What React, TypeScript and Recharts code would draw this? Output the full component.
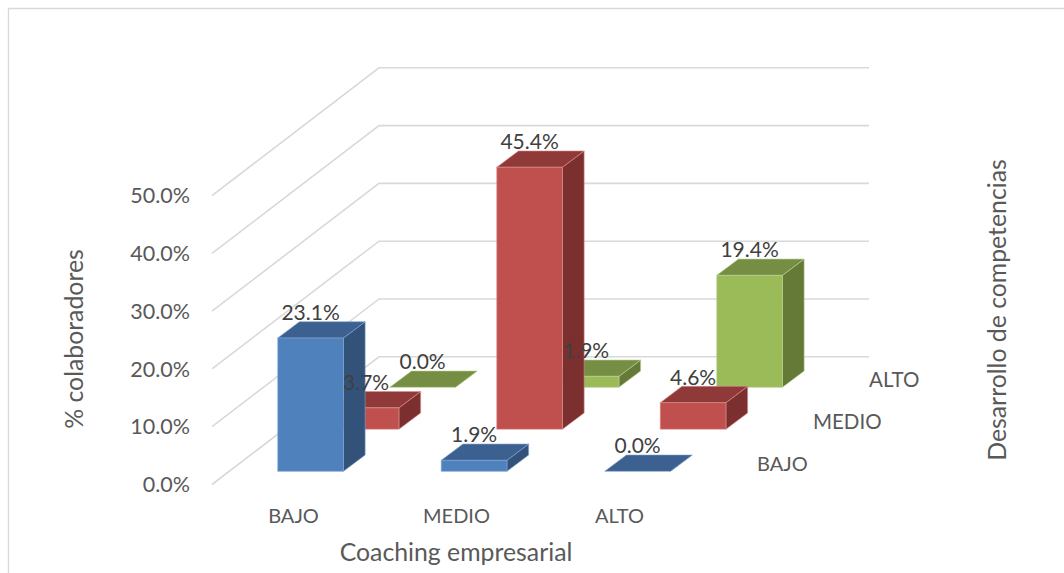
import {
  Bar,
  ComposedChart,
  LabelList,
  Line,
  XAxis,
  YAxis,
} from "recharts";

// Coaching empresarial categories along the front edge
const coachingLevels = ["BAJO", "MEDIO", "ALTO"];

// Percent of staff per competency level, front row to back row
const competenciaBajo = [23.1, 1.9, 0.0];
const competenciaMedio = [3.7, 45.4, 4.6];
const competenciaAlto = [0.0, 1.9, 19.4];

const valueTicks = [0, 10, 20, 30, 40, 50];

const chartData = coachingLevels.map((name, i) => ({
  name,
  bajo: competenciaBajo[i],
  medio: competenciaMedio[i],
  alto: competenciaAlto[i],
}));

// Height the floor climbs between the front and back wall, in value units
const WALL_RISE = 22.1;
const WALL_TOP = 50 + WALL_RISE;

// Each gridline runs up the side wall, then flat across the back wall
const wallLine = (v: number) => [
  { along: 0, level: v },
  { along: 167, level: v + WALL_RISE },
  { along: 657, level: v + WALL_RISE },
];

const percent = (v: number) => `${v.toFixed(1)}%`;

const FONT = "Lato, 'Open Sans', sans-serif";
const AXIS_TEXT = { fill: "#595959", fontFamily: FONT, fontSize: 20 };
const TITLE_SIZE = 24.8;

// Front, side and top faces of a bar, with the depth faces going up and right
function Cuboid({ x, y, width, height, front, side, top, edge }: any) {
  const dx = 21.7;
  const dy = 16.3;
  const r = x + width;
  const b = y + height;
  return (
    <g stroke={edge} strokeWidth={1} strokeOpacity={0.6}>
      <polygon
        points={`${r},${y} ${r + dx},${y - dy} ${r + dx},${b - dy} ${r},${b}`}
        fill={side}
      />
      <polygon
        points={`${x},${y} ${x + dx},${y - dy} ${r + dx},${y - dy} ${r},${y}`}
        fill={top}
      />
      {height > 0 && <rect x={x} y={y} width={width} height={height} fill={front} />}
    </g>
  );
}

const blueFaces = { front: "#4F81BD", side: "#335279", top: "#3C6190", edge: "#7FA3D1" };
const redFaces = { front: "#C0504D", side: "#7B2F2E", top: "#8F3A38", edge: "#D98F8D" };
const greenFaces = { front: "#9BBB59", side: "#667A38", top: "#758E44", edge: "#BBD08F" };

export default function App() {
  return (
    <div style={{ position: "absolute", left: 0, top: 0, width: 1064, height: 573, background: "#fff" }}>
      <ComposedChart
        width={1064}
        height={573}
        data={chartData}
        margin={{ top: 67.8, right: 195, bottom: 0, left: 0 }}
      >
        {/* visible axes */}
        <XAxis
          xAxisId="labels"
          dataKey="name"
          height={88.5}
          padding={{ left: 0, right: 168 }}
          axisLine={false}
          tickLine={false}
          tickSize={0}
          tickMargin={24}
          tick={AXIS_TEXT}
        />
        <YAxis
          yAxisId="value"
          width={212}
          domain={[0, WALL_TOP]}
          ticks={valueTicks}
          interval={0}
          tickFormatter={percent}
          axisLine={false}
          tickLine={false}
          tickSize={0}
          tickMargin={22}
          tick={{ ...AXIS_TEXT, fontSize: 21.5 }}
        />

        {/* walls, kept under the bars */}
        <XAxis xAxisId="wall" dataKey="along" type="number" domain={[0, 657]} hide height={0} />
        {valueTicks.map((v) => (
          <Line
            key={v}
            data={wallLine(v)}
            xAxisId="wall"
            yAxisId="value"
            dataKey="level"
            stroke="#D9D9D9"
            strokeWidth={1.6}
            dot={false}
            activeDot={false}
            isAnimationActive={false}
            zIndex={100}
          />
        ))}

        {/* one axis pair per row, padded so each row sits further back */}
        <XAxis xAxisId="alto" dataKey="name" hide height={0} padding={{ left: 128.75, right: 37.75 }} />
        <YAxis yAxisId="alto" hide width={0} domain={[0, 50]} padding={{ top: 31, bottom: 97.2 }} />
        <XAxis xAxisId="medio" dataKey="name" hide height={0} padding={{ left: 72.25, right: 94.25 }} />
        <YAxis yAxisId="medio" hide width={0} domain={[0, 50]} padding={{ top: 72.9, bottom: 55.3 }} />
        <XAxis xAxisId="bajo" dataKey="name" hide height={0} padding={{ left: 16.75, right: 149.75 }} />
        <YAxis yAxisId="bajo" hide width={0} domain={[0, 50]} padding={{ top: 115, bottom: 13.2 }} />

        {/* back to front */}
        <Bar
          dataKey="alto"
          xAxisId="alto"
          yAxisId="alto"
          barSize={65.7}
          isAnimationActive={false}
          shape={(p: any) => <Cuboid {...p} {...greenFaces} />}
        >
          <LabelList dataKey="alto" position="top" offset={18} formatter={percent as any} fill="#404040" fontFamily={FONT} fontSize={21} />
        </Bar>
        <Bar
          dataKey="medio"
          xAxisId="medio"
          yAxisId="medio"
          barSize={65.7}
          isAnimationActive={false}
          shape={(p: any) => <Cuboid {...p} {...redFaces} />}
        >
          <LabelList dataKey="medio" position="top" offset={18} formatter={percent as any} fill="#404040" fontFamily={FONT} fontSize={21} />
        </Bar>
        <Bar
          dataKey="bajo"
          xAxisId="bajo"
          yAxisId="bajo"
          barSize={65.7}
          isAnimationActive={false}
          shape={(p: any) => <Cuboid {...p} {...blueFaces} />}
        >
          <LabelList dataKey="bajo" position="top" offset={18} formatter={percent as any} fill="#404040" fontFamily={FONT} fontSize={21} />
        </Bar>

        {/* chart frame */}
        <path d="M8.5 573V8.5H1064" fill="none" stroke="#D9D9D9" strokeWidth={1.3} />

        {/* depth axis labels */}
        <text x={757} y={471} {...AXIS_TEXT}>BAJO</text>
        <text x={813} y={429} {...AXIS_TEXT} fontSize={20.5}>MEDIO</text>
        <text x={869} y={387} {...AXIS_TEXT} fontSize={20.5}>ALTO</text>

        {/* axis titles */}
        <text x={456} y={561} textAnchor="middle" {...AXIS_TEXT} fontSize={TITLE_SIZE}>Coaching empresarial</text>
        <text transform="translate(83 339) rotate(-90)" textAnchor="middle" {...AXIS_TEXT} fontSize={TITLE_SIZE}>% colaboradores</text>
        <text transform="translate(1006 310) rotate(-90)" textAnchor="middle" {...AXIS_TEXT} fontSize={TITLE_SIZE}>Desarrollo de competencias</text>
      </ComposedChart>
    </div>
  );
}
